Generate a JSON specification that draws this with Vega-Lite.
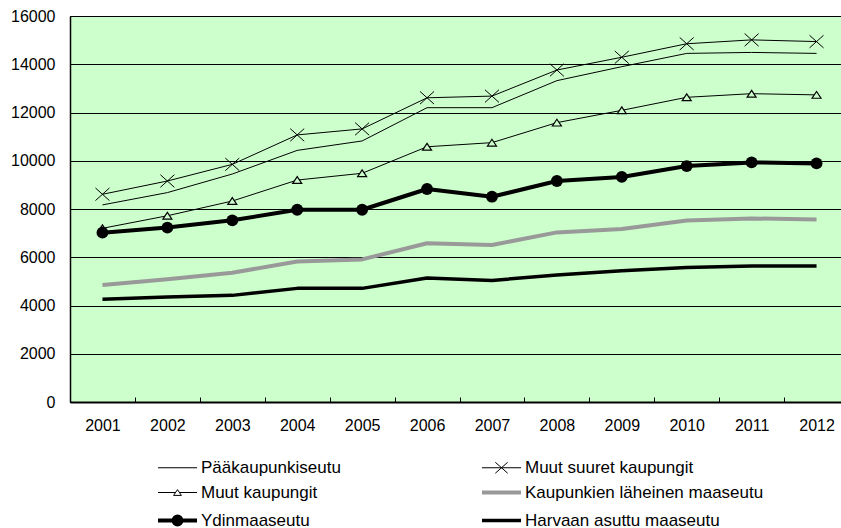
{
  "$schema": "https://vega.github.io/schema/vega-lite/v6.json",
  "width": 771,
  "height": 386,
  "autosize": {"type": "none"},
  "padding": {"left": 70, "top": 16, "right": 0, "bottom": 126},
  "background": "white",
  "config": {
    "font": "Liberation Sans",
    "view": {"fill": "#CCFFCC", "stroke": "#000", "strokeWidth": 1}
  },
  "data": {
    "values": [
      {"year": "2001", "series": "Pääkaupunkiseutu", "value": 8170},
      {"year": "2002", "series": "Pääkaupunkiseutu", "value": 8680},
      {"year": "2003", "series": "Pääkaupunkiseutu", "value": 9450},
      {"year": "2004", "series": "Pääkaupunkiseutu", "value": 10430},
      {"year": "2005", "series": "Pääkaupunkiseutu", "value": 10820},
      {"year": "2006", "series": "Pääkaupunkiseutu", "value": 12200},
      {"year": "2007", "series": "Pääkaupunkiseutu", "value": 12200},
      {"year": "2008", "series": "Pääkaupunkiseutu", "value": 13320},
      {"year": "2009", "series": "Pääkaupunkiseutu", "value": 13900},
      {"year": "2010", "series": "Pääkaupunkiseutu", "value": 14450},
      {"year": "2011", "series": "Pääkaupunkiseutu", "value": 14490},
      {"year": "2012", "series": "Pääkaupunkiseutu", "value": 14450},
      {"year": "2001", "series": "Muut suuret kaupungit", "value": 8610},
      {"year": "2002", "series": "Muut suuret kaupungit", "value": 9160},
      {"year": "2003", "series": "Muut suuret kaupungit", "value": 9850},
      {"year": "2004", "series": "Muut suuret kaupungit", "value": 11070},
      {"year": "2005", "series": "Muut suuret kaupungit", "value": 11320},
      {"year": "2006", "series": "Muut suuret kaupungit", "value": 12610},
      {"year": "2007", "series": "Muut suuret kaupungit", "value": 12680},
      {"year": "2008", "series": "Muut suuret kaupungit", "value": 13760},
      {"year": "2009", "series": "Muut suuret kaupungit", "value": 14290},
      {"year": "2010", "series": "Muut suuret kaupungit", "value": 14850},
      {"year": "2011", "series": "Muut suuret kaupungit", "value": 15010},
      {"year": "2012", "series": "Muut suuret kaupungit", "value": 14940},
      {"year": "2001", "series": "Muut kaupungit", "value": 7200},
      {"year": "2002", "series": "Muut kaupungit", "value": 7720},
      {"year": "2003", "series": "Muut kaupungit", "value": 8330},
      {"year": "2004", "series": "Muut kaupungit", "value": 9200},
      {"year": "2005", "series": "Muut kaupungit", "value": 9480},
      {"year": "2006", "series": "Muut kaupungit", "value": 10580},
      {"year": "2007", "series": "Muut kaupungit", "value": 10750},
      {"year": "2008", "series": "Muut kaupungit", "value": 11580},
      {"year": "2009", "series": "Muut kaupungit", "value": 12090},
      {"year": "2010", "series": "Muut kaupungit", "value": 12630},
      {"year": "2011", "series": "Muut kaupungit", "value": 12780},
      {"year": "2012", "series": "Muut kaupungit", "value": 12730},
      {"year": "2001", "series": "Kaupunkien läheinen maaseutu", "value": 4850},
      {"year": "2002", "series": "Kaupunkien läheinen maaseutu", "value": 5090},
      {"year": "2003", "series": "Kaupunkien läheinen maaseutu", "value": 5360},
      {"year": "2004", "series": "Kaupunkien läheinen maaseutu", "value": 5820},
      {"year": "2005", "series": "Kaupunkien läheinen maaseutu", "value": 5910},
      {"year": "2006", "series": "Kaupunkien läheinen maaseutu", "value": 6580},
      {"year": "2007", "series": "Kaupunkien läheinen maaseutu", "value": 6510},
      {"year": "2008", "series": "Kaupunkien läheinen maaseutu", "value": 7030},
      {"year": "2009", "series": "Kaupunkien läheinen maaseutu", "value": 7170},
      {"year": "2010", "series": "Kaupunkien läheinen maaseutu", "value": 7520},
      {"year": "2011", "series": "Kaupunkien läheinen maaseutu", "value": 7610},
      {"year": "2012", "series": "Kaupunkien läheinen maaseutu", "value": 7560},
      {"year": "2001", "series": "Ydinmaaseutu", "value": 7020},
      {"year": "2002", "series": "Ydinmaaseutu", "value": 7230},
      {"year": "2003", "series": "Ydinmaaseutu", "value": 7530},
      {"year": "2004", "series": "Ydinmaaseutu", "value": 7970},
      {"year": "2005", "series": "Ydinmaaseutu", "value": 7970},
      {"year": "2006", "series": "Ydinmaaseutu", "value": 8830},
      {"year": "2007", "series": "Ydinmaaseutu", "value": 8510},
      {"year": "2008", "series": "Ydinmaaseutu", "value": 9160},
      {"year": "2009", "series": "Ydinmaaseutu", "value": 9330},
      {"year": "2010", "series": "Ydinmaaseutu", "value": 9780},
      {"year": "2011", "series": "Ydinmaaseutu", "value": 9930},
      {"year": "2012", "series": "Ydinmaaseutu", "value": 9890},
      {"year": "2001", "series": "Harvaan asuttu maaseutu", "value": 4260},
      {"year": "2002", "series": "Harvaan asuttu maaseutu", "value": 4350},
      {"year": "2003", "series": "Harvaan asuttu maaseutu", "value": 4420},
      {"year": "2004", "series": "Harvaan asuttu maaseutu", "value": 4710},
      {"year": "2005", "series": "Harvaan asuttu maaseutu", "value": 4710},
      {"year": "2006", "series": "Harvaan asuttu maaseutu", "value": 5140},
      {"year": "2007", "series": "Harvaan asuttu maaseutu", "value": 5040},
      {"year": "2008", "series": "Harvaan asuttu maaseutu", "value": 5260},
      {"year": "2009", "series": "Harvaan asuttu maaseutu", "value": 5440},
      {"year": "2010", "series": "Harvaan asuttu maaseutu", "value": 5580},
      {"year": "2011", "series": "Harvaan asuttu maaseutu", "value": 5640},
      {"year": "2012", "series": "Harvaan asuttu maaseutu", "value": 5640}
    ]
  },
  "layer": [
    {
      "mark": {"type": "line", "strokeJoin": "round"},
      "encoding": {
        "x": {
          "field": "year",
          "type": "ordinal",
          "scale": {"type": "band", "range": [0, 779], "paddingInner": 0, "paddingOuter": 0},
          "axis": {
            "title": null,
            "labelAngle": 0,
            "tickBand": "extent",
            "tickSize": -5,
            "tickColor": "#000",
            "tickWidth": 1,
            "domainColor": "#000",
            "domainWidth": 2,
            "labelFontSize": 16,
            "labelColor": "#000",
            "labelPadding": 20,
            "grid": false
          }
        },
        "y": {
          "field": "value",
          "type": "quantitative",
          "scale": {"domain": [0, 16000], "nice": false},
          "axis": {
            "title": null,
            "format": "d",
            "values": [0, 2000, 4000, 6000, 8000, 10000, 12000, 14000, 16000],
            "grid": true,
            "gridColor": "#000",
            "gridWidth": 1,
            "ticks": false,
            "domainColor": "#000",
            "domainWidth": 1.5,
            "labelFontSize": 16,
            "labelColor": "#000",
            "labelPadding": 15
          }
        },
        "color": {
          "field": "series",
          "type": "nominal",
          "scale": {
            "domain": ["Pääkaupunkiseutu", "Muut kaupungit", "Ydinmaaseutu", "Muut suuret kaupungit", "Kaupunkien läheinen maaseutu", "Harvaan asuttu maaseutu"],
            "range": ["#000000", "#000000", "#000000", "#000000", "#999999", "#000000"]
          },
          "legend": {
            "title": null,
            "orient": "none",
            "direction": "vertical",
            "legendX": 88,
            "legendY": 443,
            "columns": 2,
            "columnPadding": 132,
            "rowPadding": 7,
            "symbolSize": 169,
            "symbolType": "stroke",
            "labelFontSize": 17,
            "labelColor": "#000",
            "labelOffset": 26,
            "labelLimit": 400,
            "encode": {
              "symbols": {
                "update": {
                  "shape": {"signal": "datum.value === 'Muut suuret kaupungit' ? 'M-1.308,0H4.692M0.738,-0.846L2.646,0.846M0.738,0.846L2.646,-0.846' : datum.value === 'Muut kaupungit' ? 'M-1.308,0H1.385M2,0H4.692M1.692,-0.446L2.292,0.446L1.092,0.446Z' : datum.value === 'Ydinmaaseutu' ? 'M-1.308,0H4.692M1.092,0A0.6,0.6 0 1 1 2.292,0A0.6,0.6 0 1 1 1.092,0Z' : 'M-1.308,0H4.692'"},
                  "fill": {"signal": "datum.value === 'Ydinmaaseutu' ? '#000' : datum.value === 'Muut kaupungit' ? '#fff' : 'transparent'"}
                }
              }
            }
          }
        },
        "strokeWidth": {
          "field": "series",
          "type": "nominal",
          "scale": {
            "type": "ordinal",
            "domain": ["Pääkaupunkiseutu", "Muut kaupungit", "Ydinmaaseutu", "Muut suuret kaupungit", "Kaupunkien läheinen maaseutu", "Harvaan asuttu maaseutu"],
            "range": [1, 1, 4, 1, 4, 3.5]
          }
        }
      }
    },
    {
      "transform": [{"filter": "datum.series === 'Muut suuret kaupungit'"}],
      "mark": {"type": "point", "shape": "M-1,-0.9L1,0.9M-1,0.9L1,-0.9", "size": 196, "filled": false, "stroke": "#000", "strokeWidth": 1, "opacity": 1},
      "encoding": {
        "x": {"field": "year", "type": "ordinal"},
        "y": {"field": "value", "type": "quantitative"}
      }
    },
    {
      "transform": [{"filter": "datum.series === 'Muut kaupungit'"}],
      "mark": {"type": "point", "shape": "M0,-0.75L1,0.75L-1,0.75Z", "size": 81, "filled": true, "fill": "#CCFFCC", "stroke": "#000", "strokeWidth": 1.2, "opacity": 1},
      "encoding": {
        "x": {"field": "year", "type": "ordinal"},
        "y": {"field": "value", "type": "quantitative"}
      }
    },
    {
      "transform": [{"filter": "datum.series === 'Ydinmaaseutu'"}],
      "mark": {"type": "point", "shape": "circle", "size": 140, "filled": true, "color": "#000", "opacity": 1},
      "encoding": {
        "x": {"field": "year", "type": "ordinal"},
        "y": {"field": "value", "type": "quantitative"}
      }
    }
  ]
}
